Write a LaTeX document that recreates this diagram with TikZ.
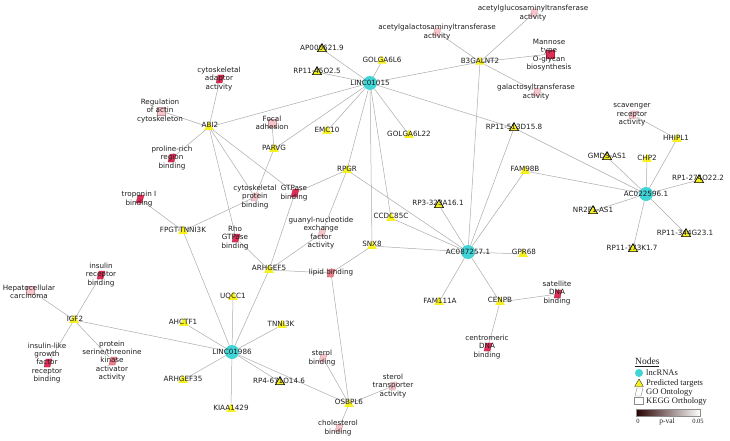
\documentclass[tikz,border=0pt]{standalone}
\usepackage{fontspec}
\setmainfont{DejaVu Sans}
\newfontfamily\legfont{Liberation Serif}
\usetikzlibrary{shapes.geometric}
\pgfdeclarelayer{background}
\pgfsetlayers{background,main}
\definecolor{lncc}{RGB}{64,212,214}
\definecolor{tric}{RGB}{245,240,30}
\definecolor{edgec}{RGB}{172,172,172}
\definecolor{gostrong}{RGB}{225,45,85}
\definecolor{gomed}{RGB}{240,125,135}
\definecolor{golight}{RGB}{248,196,202}
\definecolor{txtc}{RGB}{30,30,30}
\newcommand\mygo[4]{%
  \node[goanchor] (#1) at (#2,#3) {};
  \filldraw[fill=#4,draw=#4!75!black,line width=0.3pt] (#2,#3) ++(-4,4) -- ++(6,0) -- ++(2,-8) -- ++(-6,0) -- cycle;}
\begin{document}
\begin{tikzpicture}[x=1pt,y=-1pt,
 lnc/.style={circle,fill=lncc,minimum size=14pt,inner sep=0pt},
 tgt/.style={regular polygon,regular polygon sides=3,fill=tric,minimum size=11pt,inner sep=0pt},
 tgtb/.style={tgt,minimum size=10.5pt,draw=black,line width=0.7pt},
 goanchor/.style={rectangle,minimum width=7pt,minimum height=8pt,inner sep=0pt},
 kegg/.style={rectangle,minimum size=8pt,inner sep=0pt,draw=#1!75!black,line width=0.3pt,fill=#1},
 lab/.style={font=\fontsize{7.2}{8.4}\selectfont,align=center,inner sep=0pt,text=txtc},
 edge/.style={draw=edgec,line width=0.5pt},
 legtxt/.style={font=\legfont\fontsize{8.5}{10}\selectfont,anchor=west,inner sep=0pt,text=txtc}
]
\useasboundingbox (0,0) rectangle (730,441);
% lncRNAs
\node[lnc] (L1) at (370,83) {};
\node[lnc] (A8) at (468,252) {};
\node[lnc] (A2) at (646,194) {};
\node[lnc] (L9) at (232,352) {};
% predicted targets
\node[tgtb] (ap) at (322,49) {};
\node[tgtb] (rp45) at (317,72) {};
\node[tgt] (g6) at (382,61) {};
\node[tgt] (b3) at (480,62) {};
\node[tgt] (emc) at (327,131) {};
\node[tgt] (g22) at (409,135) {};
\node[tgtb] (rp513) at (514,128) {};
\node[tgt] (abi) at (209,127) {};
\node[tgt] (parvg) at (274,149) {};
\node[tgt] (rpgr) at (347,170) {};
\node[tgt] (fam98) at (525,171) {};
\node[tgtb] (rp3) at (439,205) {};
\node[tgt] (ccdc) at (391,218) {};
\node[tgt] (snx) at (372,246) {};
\node[tgt] (gpr) at (523,254) {};
\node[tgt] (fam111) at (439,302) {};
\node[tgt] (cenpb) at (500,302) {};
\node[tgt] (hhip) at (677,139) {};
\node[tgtb] (gmds) at (607,157) {};
\node[tgt] (chp) at (647,159) {};
\node[tgtb] (rp1) at (699,180) {};
\node[tgtb] (nr2) at (593,211) {};
\node[tgtb] (rp344) at (686,234) {};
\node[tgtb] (rp173) at (633,249) {};
\node[tgt] (fpgt) at (183,231) {};
\node[tgt] (arh5) at (269,270) {};
\node[tgt] (igf) at (74,320) {};
\node[tgt] (ahc) at (184,323) {};
\node[tgt] (uqcc) at (233,297) {};
\node[tgt] (tnni) at (282,325) {};
\node[tgt] (arh35) at (183,380) {};
\node[tgt] (kiaa) at (231,409) {};
\node[tgtb] (rp4) at (280,382) {};
\node[tgt] (osb) at (349,404) {};
% GO / KEGG terms
\node[kegg=golight] (ract) at (161,111) {};
\mygo{cadap}{220}{79}{gostrong}
\node[kegg=golight] (focal) at (272,123) {};
\mygo{prol}{172}{158}{gostrong}
\mygo{trop}{140}{199}{gostrong}
\mygo{cprot}{255}{197}{golight}
\mygo{gtp}{295}{193}{gostrong}
\mygo{rho}{236}{238}{gostrong}
\mygo{guan}{322}{233}{golight}
\mygo{lipid}{331}{273}{gomed}
\mygo{agal}{437}{32}{golight}
\mygo{aglu}{534}{13}{golight}
\node[kegg=gostrong] (mann) at (550,54) {};
\mygo{galt}{537}{92}{golight}
\mygo{scav}{633}{115}{golight}
\mygo{sat}{558}{294}{gostrong}
\mygo{cent}{488}{347}{gostrong}
\mygo{insr}{101}{275}{gostrong}
\node[kegg=golight] (hep) at (30,290) {};
\mygo{igfr}{48}{363}{gostrong}
\mygo{pstk}{113}{361}{gomed}
\mygo{ster}{323}{358}{golight}
\mygo{chol}{339}{428}{golight}
\mygo{strans}{393}{386}{golight}
% edges
\begin{pgfonlayer}{background}
\fill[white] (0,0) rectangle (730,441);
\foreach \a/\b in {L1/ap,L1/rp45,L1/g6,L1/b3,L1/abi,L1/emc,L1/parvg,L1/rpgr,L1/g22,L1/ccdc,L1/snx,L1/rp513,
 A8/b3,A8/rp513,A8/fam98,A8/rpgr,A8/rp3,A8/ccdc,A8/snx,A8/gpr,A8/fam111,A8/cenpb,
 A2/gmds,A2/chp,A2/rp1,A2/nr2,A2/rp344,A2/rp173,A2/hhip,A2/fam98,A2/rp513,
 L9/uqcc,L9/ahc,L9/tnni,L9/arh35,L9/kiaa,L9/rp4,L9/osb,L9/igf,L9/fpgt,L9/arh5,
 abi/ract,abi/cadap,abi/prol,abi/cprot,abi/gtp,abi/rho,
 parvg/focal,parvg/cprot,fpgt/trop,fpgt/cprot,
 rpgr/gtp,rpgr/guan,arh5/gtp,arh5/guan,arh5/rho,arh5/lipid,snx/lipid,
 osb/lipid,osb/ster,osb/chol,osb/strans,
 igf/hep,igf/insr,igf/igfr,igf/pstk,
 cenpb/cent,cenpb/sat,
 b3/agal,b3/aglu,b3/mann,b3/galt,hhip/scav}
 {\draw[edge] (\a) -- (\b);}
\end{pgfonlayer}
% labels
\node[lab] (t-L1) at (370,83) {LINC01015};
\node[lab] (t-A8) at (468,252) {AC087257.1};
\node[lab] (t-A2) at (646,194) {AC022596.1};
\node[lab] (t-L9) at (232,352) {LINC01986};
\node[lab] (t-ap) at (322,48) {AP000621.9};
\node[lab] (t-rp45) at (317,71) {RP11-45O2.5};
\node[lab] (t-g6) at (382,60) {GOLGA6L6};
\node[lab] (t-b3) at (480,61) {B3GALNT2};
\node[lab] (t-emc) at (327,130) {EMC10};
\node[lab] (t-g22) at (409,134) {GOLGA6L22};
\node[lab] (t-rp513) at (514,127) {RP11-513D15.8};
\node[lab] (t-abi) at (210,125) {ABI2};
\node[lab] (t-parvg) at (274,148) {PARVG};
\node[lab] (t-rpgr) at (347,169) {RPGR};
\node[lab] (t-fam98) at (525,169) {FAM98B};
\node[lab] (t-rp3) at (438,203) {RP3-323A16.1};
\node[lab] (t-ccdc) at (391,216) {CCDC85C};
\node[lab] (t-snx) at (372,244) {SNX8};
\node[lab] (t-gpr) at (524,252) {GPR68};
\node[lab] (t-fam111) at (440,301) {FAM111A};
\node[lab] (t-cenpb) at (500,300) {CENPB};
\node[lab] (t-hhip) at (676,138) {HHIPL1};
\node[lab] (t-gmds) at (607,156) {GMDS-AS1};
\node[lab] (t-chp) at (647,158) {CHP2};
\node[lab] (t-rp1) at (698,178) {RP1-274O22.2};
\node[lab] (t-nr2) at (593,210) {NR2F1-AS1};
\node[lab] (t-rp344) at (685,233) {RP11-344G23.1};
\node[lab] (t-rp173) at (632,248) {RP11-173K1.7};
\node[lab] (t-fpgt) at (183,230) {FPGT-TNNI3K};
\node[lab] (t-arh5) at (269,268) {ARHGEF5};
\node[lab] (t-igf) at (75,319) {IGF2};
\node[lab] (t-ahc) at (183,322) {AHCTF1};
\node[lab] (t-uqcc) at (233,296) {UQCC1};
\node[lab] (t-tnni) at (281,324) {TNNI3K};
\node[lab] (t-arh35) at (183,379) {ARHGEF35};
\node[lab] (t-kiaa) at (231,408) {KIAA1429};
\node[lab] (t-rp4) at (279,381) {RP4-671O14.6};
\node[lab] (t-osb) at (349,402) {OSBPL6};
\node[lab] (t-ract) at (160,111) {Regulation\\of actin\\cytoskeleton};
\node[lab] (t-cadap) at (219,79) {cytoskeletal\\adaptor\\activity};
\node[lab] (t-focal) at (272,123) {Focal\\adhesion};
\node[lab] (t-prol) at (172,158) {proline-rich\\region\\binding};
\node[lab] (t-trop) at (139,199) {troponin I\\binding};
\node[lab] (t-cprot) at (255,197) {cytoskeletal\\protein\\binding};
\node[lab] (t-gtp) at (294,193) {GTPase\\binding};
\node[lab] (t-rho) at (235,238) {Rho\\GTPase\\binding};
\node[lab] (t-guan) at (321,233) {guanyl-nucleotide\\exchange\\factor\\activity};
\node[lab] (t-lipid) at (331,273) {lipid binding};
\node[lab] (t-agal) at (437,32) {acetylgalactosaminyltransferase\\activity};
\node[lab] (t-aglu) at (533,13) {acetylglucosaminyltransferase\\activity};
\node[lab] (t-mann) at (549,55) {Mannose\\type\\O-glycan\\biosynthesis};
\node[lab] (t-galt) at (536,92) {galactosyltransferase\\activity};
\node[lab] (t-scav) at (632,115) {scavenger\\receptor\\activity};
\node[lab] (t-sat) at (557,293) {satellite\\DNA\\binding};
\node[lab] (t-cent) at (487,347) {centromeric\\DNA\\binding};
\node[lab] (t-insr) at (101,275) {insulin\\receptor\\binding};
\node[lab] (t-hep) at (29,292) {Hepatocellular\\carcinoma};
\node[lab] (t-igfr) at (47,363) {insulin-like\\growth\\factor\\receptor\\binding};
\node[lab] (t-pstk) at (112,361) {protein\\serine/threonine\\kinase\\activator\\activity};
\node[lab] (t-ster) at (322,358) {sterol\\binding};
\node[lab] (t-chol) at (338,428) {cholesterol\\binding};
\node[lab] (t-strans) at (393,386) {sterol\\transporter\\activity};
% legend
\node[font=\legfont\fontsize{9.5}{11}\selectfont,anchor=west,inner sep=0pt,text=txtc] (lgtitle) at (635,362) {\underline{Nodes}};
\node[circle,fill=lncc,minimum size=8pt,inner sep=0pt] (lg1) at (639,373) {};
\node[legtxt] (lgt1) at (646,373) {lncRNAs};
\node[regular polygon,regular polygon sides=3,fill=tric,draw=black!80,line width=0.4pt,minimum size=10pt,inner sep=0pt] (lg2) at (639,384) {};
\node[legtxt] (lgt2) at (646,383) {Predicted targets};
\node[goanchor] (lg3) at (639,392) {};
\draw[black!45,line width=0.4pt] (639,392) ++(-4,4) -- ++(6,0) -- ++(2,-8) -- ++(-6,0) -- cycle;
\node[legtxt] (lgt3) at (646,392) {GO Ontology};
\node[rectangle,draw=black!45,line width=0.4pt,minimum width=9pt,minimum height=7pt,inner sep=0pt] (lg4) at (639,401) {};
\node[legtxt] (lgt4) at (646,401) {KEGG Orthology};
\shade[left color={rgb,255:red,40;green,0;blue,0},middle color={rgb,255:red,238;green,90;blue,60},right color=white] (636,409) rectangle (700,416);
\draw[black!45,line width=0.4pt] (636,409) rectangle (700,416);
\node[font=\legfont\fontsize{6.5}{8}\selectfont,inner sep=0pt,text=txtc] (lg0) at (638,421) {0};
\node[font=\legfont\fontsize{7.5}{9}\selectfont,inner sep=0pt,text=txtc] (lgp) at (667,422) {p-val};
\node[font=\legfont\fontsize{6.5}{8}\selectfont,inner sep=0pt,text=txtc] (lg5) at (698,421) {0.05};
\end{tikzpicture}
\end{document}
